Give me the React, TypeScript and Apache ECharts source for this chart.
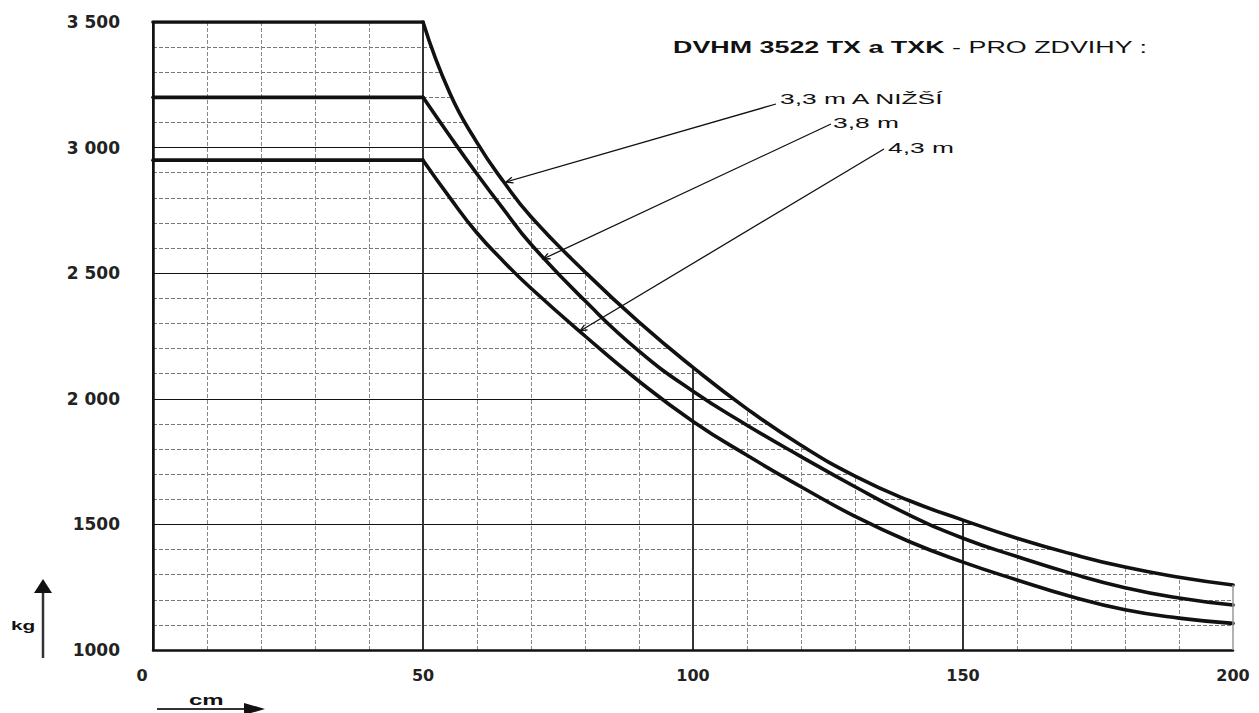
import React, { useEffect, useRef } from "react";
import * as echarts from "echarts";

// ---- data ----
const distanceCm = [0, 50, 55, 60, 65, 70, 80, 90, 100, 110, 120, 130, 140, 150, 160, 170, 180, 190, 200];
const load33 = [3500, 3500, 3215, 3020, 2862, 2725, 2505, 2305, 2125, 1960, 1815, 1692, 1595, 1517, 1445, 1383, 1330, 1290, 1259];
const load38 = [3200, 3200, 3045, 2895, 2752, 2615, 2390, 2190, 2030, 1895, 1770, 1650, 1538, 1445, 1372, 1305, 1248, 1207, 1179];
const load43 = [2950, 2950, 2800, 2660, 2545, 2440, 2250, 2070, 1910, 1775, 1650, 1532, 1432, 1350, 1279, 1213, 1160, 1127, 1106];

const xTickValues = [0, 50, 100, 150, 200];
const xTickLabels = ["0", "50", "100", "150", "200"];
const yTickValues = [1000, 1500, 2000, 2500, 3000, 3500];
const yTickLabels = ["1000", "1500", "2 000", "2 500", "3 000", "3 500"];

const titleBold = "DVHM 3522 TX a TXK";
const titleRegular = " - PRO ZDVIHY :";
const curveLabels = ["3,3 m A NIŽŠÍ", "3,8 m", "4,3 m"];
const yUnit = "kg";
const xUnit = "cm";

const pairs = (xs: number[], ys: number[]) => xs.map((x, i) => [x, ys[i]]);

function arrowHead(x1: number, y1: number, x2: number, y2: number, len: number, half: number) {
  const dx = x2 - x1;
  const dy = y2 - y1;
  const d = Math.sqrt(dx * dx + dy * dy);
  const ux = dx / d;
  const uy = dy / d;
  const nx = -uy;
  const ny = ux;
  return [
    [x2 - ux * len + nx * half, y2 - uy * len + ny * half],
    [x2, y2],
    [x2 - ux * len - nx * half, y2 - uy * len - ny * half],
  ];
}

export default function App() {
  const ref = useRef<HTMLDivElement>(null);

  useEffect(() => {
    document.body.style.margin = "0";
    document.body.style.overflow = "hidden";
    if (!ref.current) return;
    const chart = echarts.init(ref.current, undefined, { renderer: "svg" });

    const lineStyle = { color: "#111", width: 3.6, cap: "round" as const, join: "round" as const };
    const curveSeries = (name: string, ys: number[], extra: any = {}) => [
      {
        name: name + " flat",
        type: "line",
        data: pairs(distanceCm.slice(0, 2), ys.slice(0, 2)),
        showSymbol: false,
        symbol: "none",
        lineStyle,
        z: 3,
      },
      {
        name,
        type: "line",
        data: pairs(distanceCm.slice(1), ys.slice(1)),
        smooth: 0.5,
        showSymbol: false,
        symbol: "none",
        lineStyle,
        z: 3,
        ...extra,
      },
    ];

    const lastX = distanceCm[distanceCm.length - 1];
    const lastTop = load33[load33.length - 1];

    const leaders = [
      { from: [776, 104], to: [506, 182], tx: 780, ty: 99 },
      { from: [831, 124], to: [543, 259], tx: 833, ty: 123 },
      { from: [884, 149], to: [580, 331], tx: 888, ty: 148 },
    ];

    const Z = 100;
    const graphic: any[] = [
      {
        type: "text",
        x: 673,
        y: 47,
        z: Z,
        scaleX: 1.58,
        style: {
          text: "{b|" + titleBold + "}{r|" + titleRegular + "}",
          rich: {
            b: { fontFamily: "Liberation Sans", fontSize: 17, fontWeight: "bold", fill: "#111" },
            r: { fontFamily: "Liberation Sans", fontSize: 17, fontWeight: "normal", fill: "#111" },
          },
          fontFamily: "Liberation Sans",
          fontSize: 17,
          verticalAlign: "middle",
          align: "left",
        },
      },
    ];
    leaders.forEach((l, i) => {
      graphic.push({
        type: "line",
        z: Z,
        shape: { x1: l.from[0], y1: l.from[1], x2: l.to[0], y2: l.to[1] },
        style: { stroke: "#111", lineWidth: 1.3 },
      });
      graphic.push({
        type: "polyline",
        z: Z,
        shape: { points: arrowHead(l.from[0], l.from[1], l.to[0], l.to[1], 7, 3) },
        style: { stroke: "#111", lineWidth: 1.3, fill: null },
      });
      graphic.push({
        type: "text",
        z: Z,
        x: l.tx,
        y: l.ty,
        scaleX: 1.7,
        style: {
          text: curveLabels[i],
          fontFamily: "Liberation Sans",
          fontSize: 15.5,
          fill: "#111",
          verticalAlign: "middle",
          align: "left",
        },
      });
    });
    // unit labels and arrows
    graphic.push(
      {
        type: "text",
        z: Z,
        x: 11,
        y: 626,
        scaleX: 1.6,
        style: { text: yUnit, fontFamily: "Liberation Sans", fontSize: 13, fontWeight: "bold", fill: "#111", verticalAlign: "middle" },
      },
      { type: "line", z: Z, shape: { x1: 43, y1: 658, x2: 43, y2: 590 }, style: { stroke: "#333", lineWidth: 2.5 } },
      { type: "polygon", z: Z, shape: { points: [[34, 593], [52, 593], [43, 579]] }, style: { fill: "#111" } },
      {
        type: "text",
        z: Z,
        x: 189,
        y: 700,
        scaleX: 1.6,
        style: { text: xUnit, fontFamily: "Liberation Sans", fontSize: 15, fontWeight: "bold", fill: "#111", verticalAlign: "middle" },
      },
      { type: "line", z: Z, shape: { x1: 157, y1: 709, x2: 248, y2: 709 }, style: { stroke: "#333", lineWidth: 2 } },
      { type: "polygon", z: Z, shape: { points: [[244, 703], [244, 715], [265, 709]] }, style: { fill: "#111" } }
    );

    const labelFont = { fontFamily: "DejaVu Sans", fontWeight: "bold" as const, color: "#222" };

    chart.setOption({
      animation: false,
      backgroundColor: "#fff",
      grid: { left: 153, right: 26, top: 22, bottom: 63, containLabel: false },
      xAxis: {
        type: "value",
        min: 0,
        max: 200,
        interval: 50,
        axisLine: { show: true, onZero: false, lineStyle: { color: "#111", width: 2.5 } },
        axisTick: { show: false },
        axisLabel: {
          margin: 17,
          fontSize: 16,
          ...labelFont,
          rich: { first: { ...labelFont, fontSize: 16, padding: [0, 22, 0, 0] } },
          formatter: (v: number) => {
            const i = xTickValues.indexOf(v);
            if (i < 0) return "";
            return i === 0 ? "{first|" + xTickLabels[i] + "}" : xTickLabels[i];
          },
        },
        splitLine: {
          show: true,
          lineStyle: { color: ["#222", "#333", "#333", "#333", "rgba(0,0,0,0)"], width: 2 },
        },
        minorTick: { show: false, splitNumber: 5 },
        minorSplitLine: { show: true, lineStyle: { color: "#888", width: 1, type: [4, 2] } },
      },
      yAxis: {
        type: "value",
        min: 1000,
        max: 3500,
        interval: 500,
        axisLine: { show: true, onZero: false, lineStyle: { color: "#111", width: 2.5 } },
        axisTick: { show: false },
        axisLabel: {
          margin: 33,
          fontSize: 17,
          ...labelFont,
          formatter: (v: number) => {
            const i = yTickValues.indexOf(v);
            return i >= 0 ? yTickLabels[i] : "";
          },
        },
        splitLine: {
          show: true,
          lineStyle: { color: ["#111", "#111", "#111", "#111", "#111", "rgba(0,0,0,0)"], width: 1.2 },
        },
        minorTick: { show: false, splitNumber: 5 },
        minorSplitLine: { show: true, lineStyle: { color: "#777", width: 1, type: [4, 2] } },
      },
      series: [
        ...curveSeries("3,3 m A NIŽŠÍ", load33, {
          areaStyle: { color: "#ffffff", opacity: 1, origin: "end" },
          markLine: {
            silent: true,
            symbol: "none",
            label: { show: false },
            lineStyle: { color: "#999", width: 1.5, type: "solid" },
            data: [[{ coord: [lastX, yTickValues[0]] }, { coord: [lastX, lastTop] }]],
          },
        }),
        ...curveSeries("3,8 m", load38),
        ...curveSeries("4,3 m", load43),
      ],
      graphic,
    });

    return () => chart.dispose();
  }, []);

  return <div ref={ref} style={{ width: 1259, height: 713 }} />;
}
